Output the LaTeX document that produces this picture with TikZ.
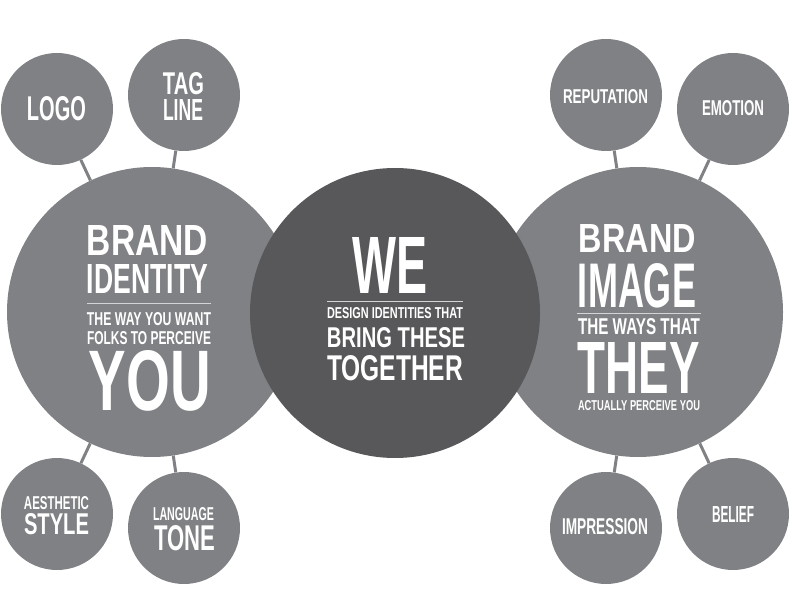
\documentclass[tikz,border=0pt]{standalone}
\usepackage{fontspec}
\setmainfont{Liberation Sans}
\usepackage{graphicx}
\definecolor{sidegray}{HTML}{808184}
\definecolor{hubgray}{HTML}{58585A}
\definecolor{rulegray}{HTML}{D4D4D6}
% squeeze a word into a given width and cap height
\newcommand{\squeeze}[3]{\resizebox{#1pt}{#2pt}{#3}}
\tikzset{
  bigcirc/.style={circle,fill=sidegray,minimum size=290pt,inner sep=0pt},
  hubcirc/.style={circle,fill=hubgray,minimum size=290pt,inner sep=0pt},
  leaf/.style={circle,fill=sidegray,minimum size=112pt,inner sep=0pt},
  link/.style={draw=sidegray,line width=3pt},
  word/.style={anchor=base,inner sep=0pt,text=white,font=\bfseries},
  rule/.style={draw=rulegray,line width=1pt}
}
\begin{document}
\begin{tikzpicture}[x=1pt,y=-1pt]
    \useasboundingbox (0,0) rectangle (792,612);

    \node[bigcirc] (identity) at (152,312) {};
    \node[bigcirc] (image) at (638,312) {};
    \node[hubcirc] (we) at (395,313) {};

    \node[leaf] (logo) at (57,109) {};
    \node[leaf] (tagline) at (184,95) {};
    \node[leaf] (aesthetic) at (57,514) {};
    \node[leaf] (language) at (184,528) {};
    \node[leaf] (reputation) at (606,95) {};
    \node[leaf] (emotion) at (733,109) {};
    \node[leaf] (impression) at (606,528) {};
    \node[leaf] (belief) at (733,514) {};

    \draw[link] (logo) -- (identity);
    \draw[link] (tagline) -- (identity);
    \draw[link] (aesthetic) -- (identity);
    \draw[link] (language) -- (identity);
    \draw[link] (reputation) -- (image);
    \draw[link] (emotion) -- (image);
    \draw[link] (impression) -- (image);
    \draw[link] (belief) -- (image);

    % brand identity
    \node[word] (idA) at (147.5,256) {\squeeze{121}{30}{BRAND}};
    \node[word] (idB) at (147.5,294) {\squeeze{121}{29}{IDENTITY}};
    \draw[rule] (87,303) -- (211,303);
    \node[word] (idC) at (149,325) {\squeeze{124}{13}{THE WAY YOU WANT}};
    \node[word] (idD) at (149,344) {\squeeze{124}{13}{FOLKS TO PERCEIVE}};
    \node[word] (idE) at (150,410) {\squeeze{122}{60}{YOU}};

    % we
    \node[word] (weA) at (390.5,293) {\squeeze{75}{56}{WE}};
    \draw[rule] (327,301) -- (463,301);
    \node[word] (weB) at (395,319) {\squeeze{136}{11}{DESIGN IDENTITIES THAT}};
    \node[word] (weC) at (396,347) {\squeeze{138}{20}{BRING THESE}};
    \node[word] (weD) at (395,380) {\squeeze{136}{25}{TOGETHER}};

    % brand image
    \node[word] (imA) at (637.5,253) {\squeeze{117}{28}{BRAND}};
    \node[word] (imB) at (637,307) {\squeeze{118}{44}{IMAGE}};
    \draw[rule] (577,313) -- (701,313);
    \node[word] (imC) at (639,334) {\squeeze{122}{16}{THE WAYS THAT}};
    \node[word] (imD) at (639,393) {\squeeze{122}{51}{THEY}};
    \node[word] (imE) at (639,410) {\squeeze{122}{10}{ACTUALLY PERCEIVE YOU}};

    % small circles
    \node[word] (logoA) at (56.5,121) {\squeeze{59}{24}{LOGO}};
    \node[word] (tagA) at (183.5,95) {\squeeze{41}{22}{TAG}};
    \node[word] (tagB) at (183,121) {\squeeze{40}{21}{LINE}};
    \node[word] (aesA) at (56.5,509) {\squeeze{65}{13}{AESTHETIC}};
    \node[word] (aesB) at (56.5,534) {\squeeze{65}{21}{STYLE}};
    \node[word] (lanA) at (183.5,520) {\squeeze{61}{13}{LANGUAGE}};
    \node[word] (lanB) at (184.5,550) {\squeeze{61}{25}{TONE}};
    \node[word] (repA) at (605.5,104) {\squeeze{85}{14}{REPUTATION}};
    \node[word] (emoA) at (733,116) {\squeeze{62}{15}{EMOTION}};
    \node[word] (impA) at (605,534) {\squeeze{86}{16}{IMPRESSION}};
    \node[word] (belA) at (733,522) {\squeeze{42}{16}{BELIEF}};
\end{tikzpicture}
\end{document}
